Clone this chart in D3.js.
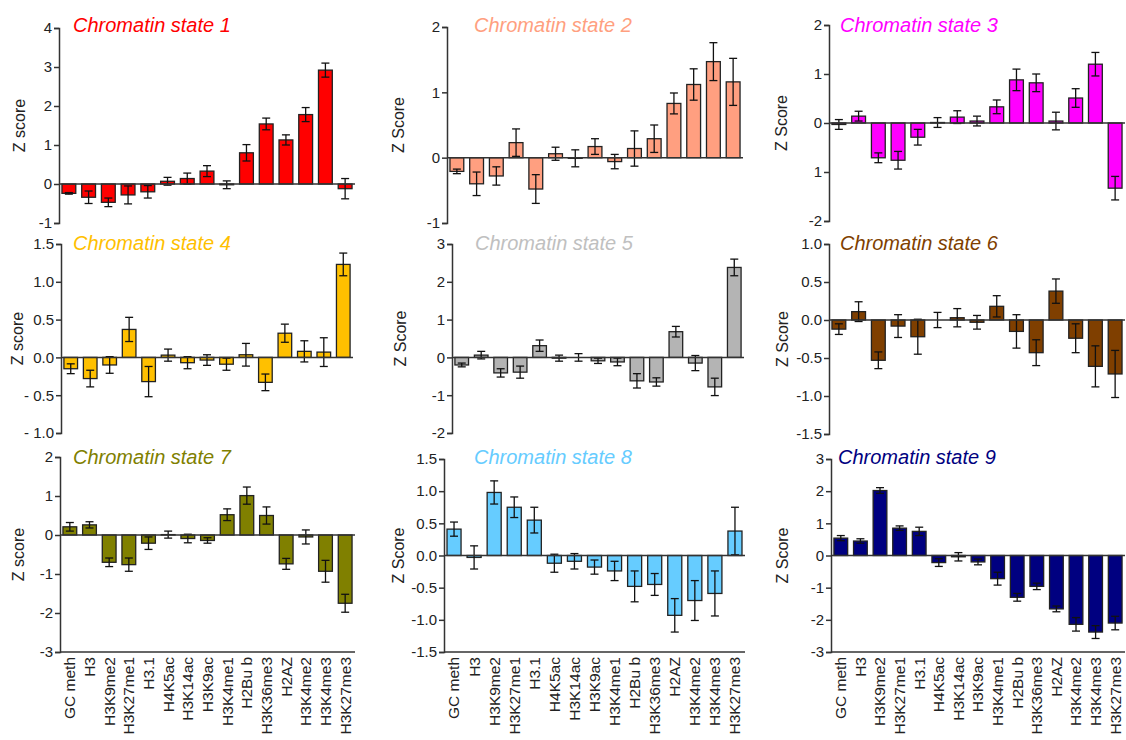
<!DOCTYPE html>
<html>
<head>
<meta charset="utf-8">
<script src="https://cdn.jsdelivr.net/npm/d3@7"></script>
<style>
  body { margin: 0; background: #fff; }
  svg { display: block; font-family: "Liberation Sans", Arial, sans-serif; }
</style>
</head>
<body>
<svg width="1126" height="740"></svg>
<script>
// marks, shared by every panel
const marks = ['GC meth', 'H3', 'H3K9me2', 'H3K27me1', 'H3.1', 'H4K5ac', 'H3K14ac', 'H3K9ac',
  'H3K4me1', 'H2Bu b', 'H3K36me3', 'H2AZ', 'H3K4me2', 'H3K4me3', 'H3K27me3'];

const stateNames = ['Chromatin state 1', 'Chromatin state 2', 'Chromatin state 3',
  'Chromatin state 4', 'Chromatin state 5', 'Chromatin state 6',
  'Chromatin state 7', 'Chromatin state 8', 'Chromatin state 9'];
const stateColors = ['#ff0000', '#ff9f80', '#ff00ff', '#ffc000', '#b4b4b4', '#7f3f00', '#808000', '#66ccff', '#000080'];
const titleColors = ['#ff0000', '#ff9f80', '#ff00ff', '#ffc000', '#c0c0c0', '#7f3f00', '#808000', '#66ccff', '#000080'];
const yTitles = ['Z score', 'Z Score', 'Z Score', 'Z score', 'Z Score', 'Z Score', 'Z score', 'Z Score', 'Z Score'];

// y ticks per state
const ticks1 = [4, 3, 2, 1, 0, -1];
const ticks2 = [2, 1, 0, -1];
const ticks3 = [2, 1, 0, -1, -2];
const ticks4 = [1.5, 1, 0.5, 0, -0.5, -1];
const ticks5 = [3, 2, 1, 0, -1, -2];
const ticks6 = [1, 0.5, 0, -0.5, -1, -1.5];
const ticks7 = [2, 1, 0, -1, -2, -3];
const ticks8 = [1.5, 1, 0.5, 0, -0.5, -1, -1.5];
const ticks9 = [3, 2, 1, 0, -1, -2, -3];

const tickLabels1 = ['4', '3', '2', '1', '0', '-1'];
const tickLabels2 = ['2', '1', '0', '-1'];
const tickLabels3 = ['2', '1', '0', '1', '-2'];
const tickLabels4 = ['1.5', '1.0', '0.5', '0.0', '- 0.5', '- 1.0'];
const tickLabels5 = ['3', '2', '1', '0', '-1', '-2'];
const tickLabels6 = ['1.0', '0.5', '0.0', '-0.5', '-1.0', '-1.5'];
const tickLabels7 = ['2', '1', '0', '-1', '-2', '-3'];
const tickLabels8 = ['1.5', '1.0', '0.5', '0.0', '-0.5', '-1.0', '-1.5'];
const tickLabels9 = ['3', '2', '1', '0', '-1', '-2', '-3'];

// mean z scores and error bars
const state1 = [-0.24, -0.34, -0.47, -0.28, -0.2, 0.07, 0.14, 0.33, -0.02, 0.8, 1.54, 1.13, 1.78, 2.92, -0.12];
const err1 = [0.02, 0.16, 0.11, 0.23, 0.16, 0.1, 0.14, 0.14, 0.1, 0.21, 0.15, 0.13, 0.18, 0.18, 0.26];
const state2 = [-0.21, -0.4, -0.28, 0.23, -0.48, 0.06, -0.01, 0.17, -0.06, 0.14, 0.29, 0.83, 1.12, 1.47, 1.16];
const err2 = [0.035, 0.18, 0.14, 0.21, 0.22, 0.1, 0.13, 0.12, 0.11, 0.27, 0.21, 0.16, 0.24, 0.29, 0.36];
const state3 = [-0.03, 0.14, -0.71, -0.76, -0.29, 0.01, 0.12, 0.04, 0.33, 0.88, 0.82, 0.04, 0.51, 1.2, -1.33];
const err3 = [0.1, 0.1, 0.1, 0.18, 0.16, 0.1, 0.13, 0.1, 0.14, 0.22, 0.18, 0.18, 0.19, 0.24, 0.24];
const state4 = [-0.15, -0.28, -0.1, 0.37, -0.32, 0.03, -0.07, -0.035, -0.09, 0.035, -0.33, 0.32, 0.08, 0.07, 1.23];
const err4 = [0.065, 0.11, 0.11, 0.16, 0.2, 0.08, 0.08, 0.07, 0.08, 0.15, 0.11, 0.12, 0.14, 0.19, 0.15];
const state5 = [-0.2, 0.06, -0.41, -0.39, 0.31, -0.02, 0.0, -0.09, -0.12, -0.62, -0.65, 0.68, -0.15, -0.78, 2.38];
const err5 = [0.05, 0.1, 0.11, 0.16, 0.15, 0.08, 0.1, 0.07, 0.1, 0.19, 0.11, 0.14, 0.2, 0.23, 0.22];
const state6 = [-0.12, 0.11, -0.53, -0.08, -0.22, 0.0, 0.03, -0.03, 0.18, -0.15, -0.43, 0.38, -0.24, -0.61, -0.71];
const err6 = [0.07, 0.13, 0.11, 0.15, 0.23, 0.1, 0.12, 0.09, 0.14, 0.22, 0.17, 0.16, 0.19, 0.27, 0.31];
const state7 = [0.21, 0.26, -0.7, -0.76, -0.21, 0.01, -0.09, -0.14, 0.52, 1.01, 0.5, -0.74, -0.05, -0.93, -1.75];
const err7 = [0.11, 0.08, 0.11, 0.17, 0.16, 0.09, 0.11, 0.07, 0.15, 0.22, 0.22, 0.14, 0.18, 0.28, 0.23];
const state8 = [0.41, -0.03, 0.98, 0.75, 0.55, -0.12, -0.09, -0.18, -0.24, -0.48, -0.45, -0.93, -0.7, -0.59, 0.38];
const err8 = [0.11, 0.18, 0.18, 0.16, 0.2, 0.14, 0.12, 0.11, 0.15, 0.24, 0.17, 0.26, 0.31, 0.35, 0.37];
const state9 = [0.54, 0.45, 2.02, 0.85, 0.75, -0.22, -0.04, -0.2, -0.72, -1.3, -0.96, -1.66, -2.14, -2.38, -2.1];
const err9 = [0.08, 0.07, 0.09, 0.07, 0.13, 0.12, 0.13, 0.09, 0.2, 0.12, 0.1, 0.09, 0.21, 0.2, 0.21];

const means = [state1, state2, state3, state4, state5, state6, state7, state8, state9];
const errs = [err1, err2, err3, err4, err5, err6, err7, err8, err9];
const tickSets = [ticks1, ticks2, ticks3, ticks4, ticks5, ticks6, ticks7, ticks8, ticks9];
const tickLabelSets = [tickLabels1, tickLabels2, tickLabels3, tickLabels4, tickLabels5,
  tickLabels6, tickLabels7, tickLabels8, tickLabels9];

// where each panel sits on the page
const layout = [
  {x0: 59, x1: 355, top: 28, bottom: 223, titleX: 73, titleY: 32, labelOff: 40},
  {x0: 447, x1: 743, top: 27, bottom: 223, titleX: 474, titleY: 32, labelOff: 49},
  {x0: 829, x1: 1125, top: 25, bottom: 221, titleX: 840, titleY: 32, labelOff: 48},
  {x0: 61, x1: 353, top: 244, bottom: 433, titleX: 73, titleY: 250, labelOff: 44},
  {x0: 452, x1: 744, top: 244, bottom: 433, titleX: 475, titleY: 250, labelOff: 52},
  {x0: 829, x1: 1125, top: 244, bottom: 434, titleX: 840, titleY: 250, labelOff: 47},
  {x0: 60, x1: 355, top: 457, bottom: 652, titleX: 73, titleY: 464, labelOff: 42},
  {x0: 444, x1: 745, top: 459, bottom: 652, titleX: 474, titleY: 464, labelOff: 46},
  {x0: 831, x1: 1125, top: 459, bottom: 652, titleX: 838, titleY: 464, labelOff: 49}
];

const svg = d3.select('svg');
const axisColor = '#333';

means.forEach((vals, i) => {
  const L = layout[i];
  const ticks = tickSets[i];
  const labels = tickLabelSets[i];
  const lastRow = i >= 6;

  const x = d3.scaleBand()
    .domain(marks)
    .range([L.x0, L.x1])
    .paddingInner(0.3)
    .paddingOuter(0.15);
  const y = d3.scaleLinear()
    .domain([d3.min(ticks), d3.max(ticks)])
    .range([L.bottom, L.top]);

  const g = svg.append('g');

  // bars
  g.selectAll('rect')
    .data(vals)
    .enter()
    .append('rect')
    .attr('x', (d, j) => x(marks[j]))
    .attr('width', x.bandwidth())
    .attr('y', (d) => y(Math.max(0, d)))
    .attr('height', (d) => Math.abs(y(d) - y(0)))
    .attr('fill', stateColors[i])
    .attr('stroke', '#222')
    .attr('stroke-width', 1.3);

  // error bars
  const eb = g.selectAll('g.err')
    .data(vals)
    .enter()
    .append('g')
    .attr('class', 'err')
    .attr('transform', (d, j) => `translate(${x(marks[j]) + x.bandwidth() / 2},0)`);
  eb.append('line')
    .attr('y1', (d, j) => y(d - errs[i][j]))
    .attr('y2', (d, j) => y(d + errs[i][j]));
  eb.append('line')
    .attr('x1', -4).attr('x2', 4)
    .attr('y1', (d, j) => y(d - errs[i][j]))
    .attr('y2', (d, j) => y(d - errs[i][j]));
  eb.append('line')
    .attr('x1', -4).attr('x2', 4)
    .attr('y1', (d, j) => y(d + errs[i][j]))
    .attr('y2', (d, j) => y(d + errs[i][j]));
  eb.selectAll('line').attr('stroke', '#111').attr('stroke-width', 1.3);

  // zero line
  g.append('line')
    .attr('x1', L.x0).attr('x2', L.x1)
    .attr('y1', y(0)).attr('y2', y(0))
    .attr('stroke', axisColor).attr('stroke-width', 1.5);

  // y axis
  const yAxis = g.append('g')
    .attr('transform', `translate(${L.x0},0)`)
    .call(d3.axisLeft(y).tickValues(ticks).tickFormat((d, k) => labels[k]).tickSize(5).tickPadding(2));
  yAxis.select('.domain').attr('stroke', axisColor).attr('stroke-width', 1.5);
  yAxis.selectAll('.tick line').attr('stroke', axisColor).attr('stroke-width', 1.5);
  yAxis.selectAll('.tick text')
    .attr('fill', '#222')
    .style('font-size', '15px')
    .style('font-family', '"Liberation Sans", Arial, sans-serif');

  // bottom axis with category names on the last row
  if (lastRow) {
    const xAxis = g.append('g')
      .attr('transform', `translate(0,${L.bottom})`)
      .call(d3.axisBottom(x).tickSize(0).tickPadding(0));
    xAxis.select('.domain')
      .attr('stroke', axisColor).attr('stroke-width', 1.5)
      .attr('d', `M${L.x0},0H${L.x1}`);
    xAxis.selectAll('.tick text')
      .attr('fill', '#222')
      .style('font-size', '15.5px')
      .style('font-family', '"Liberation Sans", Arial, sans-serif')
      .attr('text-anchor', 'end')
      .attr('transform', 'rotate(-90)')
      .attr('x', -5)
      .attr('y', 0)
      .attr('dy', '0.35em');
  }

  // y title
  g.append('text')
    .attr('transform', `translate(${L.x0 - L.labelOff},${(L.top + L.bottom) / 2}) rotate(-90)`)
    .attr('text-anchor', 'middle')
    .attr('dominant-baseline', 'central')
    .attr('font-size', 16)
    .attr('fill', '#222')
    .text(yTitles[i]);

  // panel title
  g.append('text')
    .attr('x', L.titleX)
    .attr('y', L.titleY)
    .attr('font-size', 20)
    .attr('font-style', 'italic')
    .attr('fill', titleColors[i])
    .text(stateNames[i]);
});
</script>
</body>
</html>
